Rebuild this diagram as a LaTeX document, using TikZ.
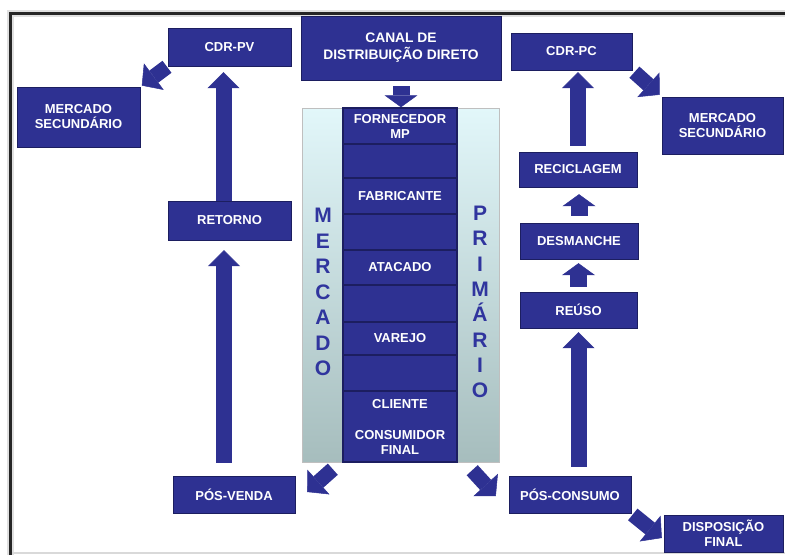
\documentclass[tikz,border=0pt]{standalone}
\usepackage{fontspec}
\setmainfont{Liberation Sans}
\usetikzlibrary{arrows.meta}
\definecolor{boxblue}{RGB}{46,49,146}
\definecolor{boxedge}{RGB}{28,30,96}
\definecolor{letterblue}{RGB}{48,53,158}
\definecolor{paneltop}{RGB}{226,247,250}
\definecolor{panelbot}{RGB}{166,189,189}
\tikzset{
  box/.style={draw=boxedge, fill=boxblue, text=white, align=center, inner sep=2pt,
    font=\bfseries\fontsize{13}{15}\selectfont},
  seg/.style={box, line width=1.5pt, minimum width=114pt},
  bigarr/.style={draw=boxblue, line width=16pt, -{Triangle[width=32pt,length=16pt,line width=0.5pt]}},
  smallarr/.style={draw=boxblue, line width=17pt, -{Triangle[width=33pt,length=12pt,line width=0.5pt]}},
  diagarr/.style={draw=boxblue, line width=15pt, -{Triangle[width=33pt,length=15pt,line width=0.5pt]}},
  vletter/.style={text=letterblue, anchor=base, font=\bfseries\fontsize{21}{21}\selectfont},
}
\begin{document}
\begin{tikzpicture}[x=1pt, y=-1pt]
  \useasboundingbox (0,0) rectangle (785,555);
  % frame
  \draw [line width=7pt, black!12] (10,555) -- (10,13) -- (785,13);
  \draw [line width=3pt, black!85] (10,555) -- (10,13) -- (785,13);
  \draw [line width=1.5pt, black!15] (12,553) -- (785,553);

  % primary market column
  \node [draw=black!25, top color=paneltop, bottom color=panelbot,
    minimum width=197pt, minimum height=354pt] (panel) at (400.5,285) {};
  \foreach \name/\yc/\h/\txt in {fornecedor/126/36/{FORNECEDOR\\MP}, g1/161/34/{},
      fabricante/196/36/{FABRICANTE}, g2/232/36/{}, atacado/267.5/35/{ATACADO},
      g3/303.5/37/{}, varejo/338.5/33/{VAREJO}, g4/373/36/{},
      cliente/426.5/71/{CLIENTE\\[16pt]CONSUMIDOR\\FINAL}}
    \node [seg, minimum height=\h] (\name) at (400,\yc) {\txt};
  \foreach \l [count=\i from 0] in {M,E,R,C,A,D,O}
    \node [vletter] at (323, 222.5+25.5*\i) {\l};
  \foreach \l [count=\i from 0] in {P,R,I,M,Á,R,I,O}
    \node [vletter] at (480, 220.5+25.3*\i) {\l};

  % boxes
  \node [box, minimum width=200pt, minimum height=64pt,
    font=\bfseries\fontsize{13.8}{17}\selectfont] (canal) at (401,48)
    {CANAL DE\\DISTRIBUIÇÃO DIRETO};
  \node [box, minimum width=123pt, minimum height=38pt] (cdrpv) at (229.5,47) {CDR-PV};
  \node [box, minimum width=123pt, minimum height=60pt] (mercesq) at (78.5,117) {MERCADO\\SECUNDÁRIO};
  \node [box, minimum width=123pt, minimum height=39pt] (retorno) at (229.5,220.5) {RETORNO};
  \node [box, minimum width=122pt, minimum height=37pt] (posvenda) at (234,494.5) {PÓS-VENDA};
  \node [box, minimum width=121pt, minimum height=37pt] (cdrpc) at (571.5,51.5) {CDR-PC};
  \node [box, minimum width=121pt, minimum height=57pt] (mercdir) at (722.5,125.5) {MERCADO\\SECUNDÁRIO};
  \node [box, minimum width=118pt, minimum height=35pt] (reciclagem) at (578,169.5) {RECICLAGEM};
  \node [box, minimum width=118pt, minimum height=36pt] (desmanche) at (579,241) {DESMANCHE};
  \node [box, minimum width=117pt, minimum height=36pt] (reuso) at (578.5,310) {REÚSO};
  \node [box, minimum width=122pt, minimum height=37pt] (posconsumo) at (570,494.5) {PÓS-CONSUMO};
  \node [box, minimum width=119pt, minimum height=37pt] (disposicao) at (723.5,533.5) {DISPOSIÇÃO\\FINAL};

  % arrows
  \draw [smallarr, shorten <=6pt] (canal.south) -- (canal.south |- fornecedor.north);
  \draw [bigarr, shorten >=6pt] ([xshift=-6pt]retorno.north) -- ([xshift=-6pt]cdrpv.south);
  \draw [bigarr, shorten <=13pt, shorten >=10pt] ([xshift=-10pt]posvenda.north)
    -- ([xshift=-10pt]posvenda.north |- retorno.south);
  \draw [bigarr, shorten <=6pt, shorten >=2pt] (reciclagem.north) -- (reciclagem.north |- cdrpc.south);
  \draw [smallarr, shorten <=7pt, shorten >=7pt] (desmanche.north) -- (desmanche.north |- reciclagem.south);
  \draw [smallarr, shorten <=5pt, shorten >=4pt] (reuso.north) -- (reuso.north |- desmanche.south);
  \draw [bigarr, shorten <=9pt, shorten >=4pt] (reuso.south |- posconsumo.north) -- (reuso.south);
  \draw [diagarr, shorten <=1pt, shorten >=2pt] (cdrpv.south west) -- (mercesq.north east);
  \draw [diagarr, shorten <=3pt, shorten >=3pt] (cdrpc.south east) -- (mercdir.north west);
  \draw [diagarr] ([shift={(31,7)}]panel.south west) -- ([shift={(12,-2.5)}]posvenda.east);
  \draw [diagarr] ([shift={(-27,8)}]panel.south east) -- ([shift={(-13,1.5)}]posconsumo.west);
  \draw [diagarr, shorten <=2pt] (posconsumo.south east) -- ([shift={(-2,4.5)}]disposicao.west);
\end{tikzpicture}
\end{document}
